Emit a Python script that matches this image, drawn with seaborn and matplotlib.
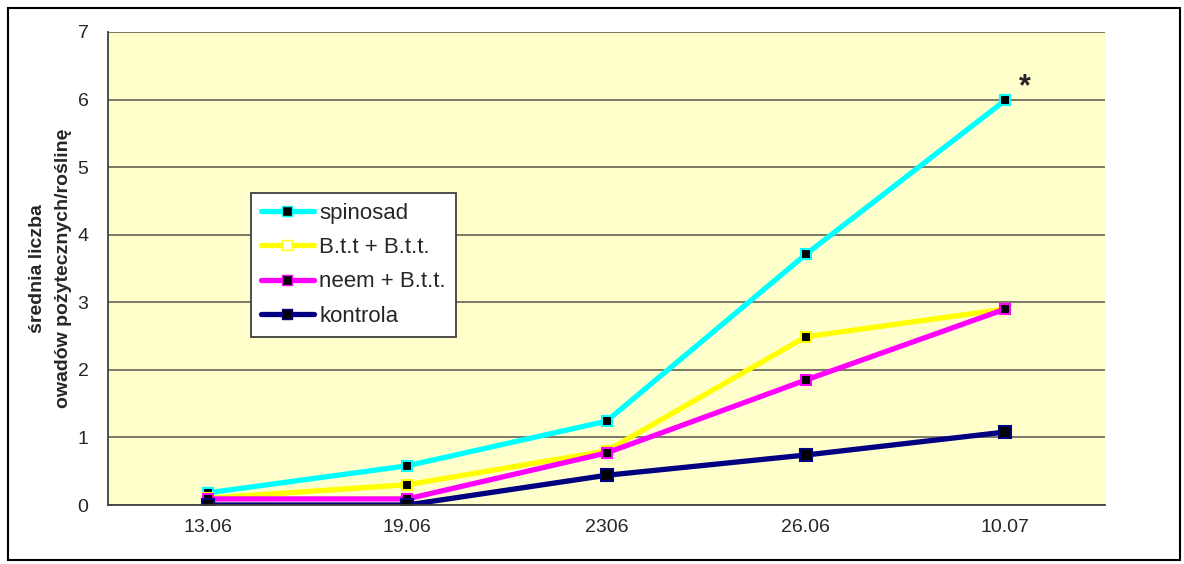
import pandas as pd
import seaborn as sns
import matplotlib.pyplot as plt
from matplotlib.patches import Rectangle

# Data
dates = ['13.06', '19.06', '2306', '26.06', '10.07']
spinosad = [0.18, 0.58, 1.24, 3.71, 5.99]
btt = [0.10, 0.30, 0.80, 2.49, 2.90]
neem = [0.09, 0.09, 0.77, 1.85, 2.90]
kontrola = [0.0, 0.0, 0.44, 0.74, 1.08]

series = ['spinosad', 'B.t.t + B.t.t.', 'neem + B.t.t.', 'kontrola']
colors = ['#00FFFF', '#FFFF00', '#FF00FF', '#000080']

rows = []
for name, vals in zip(series, [spinosad, btt, neem, kontrola]):
    for i, v in enumerate(vals):
        rows.append({'pos': i, 'val': v, 'grupa': name})
df = pd.DataFrame(rows)

sns.set_style('white')
plt.rcParams['font.family'] = ['Liberation Sans', 'DejaVu Sans']

fig = plt.figure(figsize=(11.84, 5.64), dpi=100)
ax = fig.add_axes([0.0912, 0.1046, 0.8421, 0.8387])
ax.set_facecolor('#FFFFCC')

sns.lineplot(data=df, x='pos', y='val', hue='grupa', hue_order=series,
             palette=colors, linewidth=3.8, marker='s', markersize=7,
             markerfacecolor='black', markeredgewidth=1.5, ax=ax, legend=False)
# marker edges in series colour
for line, c in zip(ax.lines, colors):
    line.set_markeredgecolor(c)
    line.set_markerfacecolor('black')
ax.lines[3].set_markersize(8)

ax.set_xlim(-0.5, 4.5)
ax.set_ylim(0, 7)
ax.set_yticks(range(8))
ax.yaxis.grid(True, color='#6e6e5e', linewidth=1.3)
ax.set_axisbelow(True)

ax.set_xticks([-0.5, 0.5, 1.5, 2.5, 3.5, 4.5])
ax.set_xticklabels([])
ax.set_xticks(range(5), minor=True)
ax.set_xticklabels(dates, minor=True)
ax.tick_params(axis='x', which='major', length=6, color='#404040', direction='out')
ax.tick_params(axis='x', which='minor', length=0, pad=10, labelsize=14)
ax.tick_params(axis='y', length=6, color='#404040', labelsize=14, pad=8, direction='out')

for s in ['top', 'right']:
    ax.spines[s].set_visible(False)
for s in ['left', 'bottom']:
    ax.spines[s].set_color('#404040')
    ax.spines[s].set_linewidth(1.3)

ax.set_xlabel('')
ax.set_ylabel('średnia liczba\nowadów pożytecznych/roślinę', fontsize=14,
              fontweight='bold', labelpad=4, linespacing=1.7)

ax.text(4.1, 6.18, '*', fontsize=22, fontweight='bold', ha='center', va='center')

handles = [plt.Line2D([], [], color=c, linewidth=3.8, marker='s', markersize=7,
                      markerfacecolor='white' if n == 'B.t.t + B.t.t.' else 'black',
                      markeredgecolor=c)
           for n, c in zip(series, colors)]
leg = ax.legend(handles, series, loc='upper left', bbox_to_anchor=(0.143, 0.66),
                fontsize=16, frameon=True, fancybox=False, handlelength=2.4,
                borderpad=0.45, labelspacing=0.6, handletextpad=0.25,
                borderaxespad=0)
leg.get_frame().set_edgecolor('#404040')
leg.get_frame().set_linewidth(1.3)
leg.get_frame().set_facecolor('white')
leg.get_frame().set_alpha(1)

fig.patches.append(Rectangle((8 / 1184, 4 / 564), 1172 / 1184, 552 / 564,
                             transform=fig.transFigure, fill=False,
                             edgecolor='black', linewidth=1.5))

plt.savefig('out.png', dpi=100)
